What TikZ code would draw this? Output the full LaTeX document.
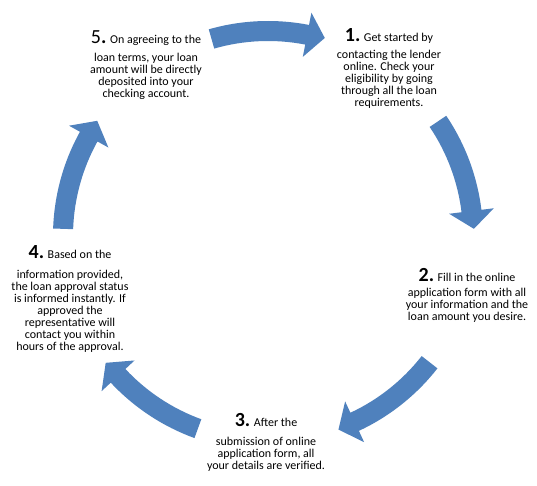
\documentclass[tikz,border=0pt]{standalone}
\usepackage{fontspec}
\setmainfont{Carlito}
\usetikzlibrary{calc}
\definecolor{arrowblue}{RGB}{79,129,189}
\newcommand\bignum[1]{{\fontsize{20}{20}\selectfont\bfseries #1.}}
\newcommand\bignumreg[1]{{\fontsize{20}{20}\selectfont #1\textbf{.}}}
\newcommand\cycarrow[1]{%
  \fill[arrowblue]
    ($(ctr)+(#1+16:215)$) arc[start angle=#1+16, end angle=#1-11, radius=215]
    -- ($(ctr)+(#1-11:227.5)$)
    -- ($(ctr)+(#1-16:206)$)
    -- ($(ctr)+(#1-11:182.5)$)
    -- ($(ctr)+(#1-11:195)$) arc[start angle=#1-11, end angle=#1+16, radius=195]
    -- cycle;}
\tikzset{lbl/.style={align=center, inner sep=0pt, anchor=north,
  font=\fontsize{12}{12}\selectfont}}
\begin{document}
\begin{tikzpicture}[x=1pt,y=1pt]
\useasboundingbox[fill=white] (0,0) rectangle (537,485);
\coordinate (ctr) at (268,249);
\foreach \p in {90,18,-54,-126,162} {\cycarrow{\p}}
\node[lbl] (t5) at (146,455) {\bignumreg{5} On agreeing to the\\[6pt] loan terms, your loan\\ amount will be directly\\ deposited into your\\ checking account.};
\node[lbl] (t1) at (389,457) {\bignum{1} Get started by\\[5pt] contacting the lender\\ online. Check your\\ eligibility by going\\ through all the loan\\ requirements.};
\node[lbl] (t2) at (467,217) {\bignum{2} Fill in the online\\[3pt] application form with all\\ your information and the\\ loan amount you desire.};
\node[lbl] (t3) at (266,72) {\bignum{3} After the\\[7pt] submission of online\\ application form, all\\ your details are verified.};
\node[lbl] (t4) at (70,240) {\bignum{4} Based on the\\[8pt] information provided,\\ the loan approval status\\ is informed instantly. If\\ approved the\\ representative will\\ contact you within\\ hours of the approval.};
\end{tikzpicture}
\end{document}
